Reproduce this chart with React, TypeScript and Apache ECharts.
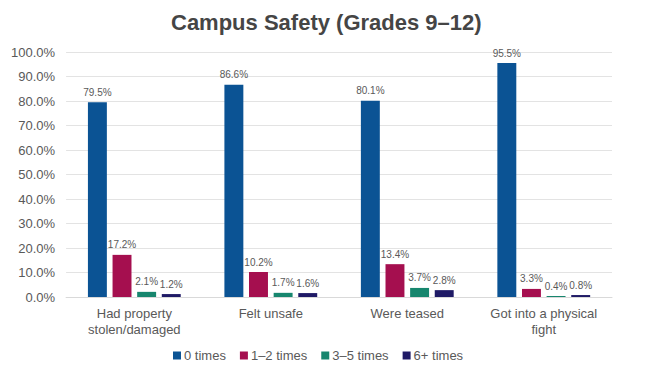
import React, { useEffect, useRef } from "react";
import * as echarts from "echarts";

const categories = ["Had property\nstolen/damaged", "Felt unsafe", "Were teased", "Got into a physical\nfight"];
const seriesNames = ["0 times", "1–2 times", "3–5 times", "6+ times"];
const zeroTimes = [79.5, 86.6, 80.1, 95.5];
const oneTwoTimes = [17.2, 10.2, 13.4, 3.3];
const threeFiveTimes = [2.1, 1.7, 3.7, 0.4];
const sixPlusTimes = [1.2, 1.6, 2.8, 0.8];
const colors = ["#0B5394", "#A50F4F", "#17866E", "#1F1A66"];

export default function App() {
  const ref = useRef<HTMLDivElement>(null);
  useEffect(() => {
    const chart = echarts.init(ref.current!, null, { renderer: "svg" });
    const data = [zeroTimes, oneTwoTimes, threeFiveTimes, sixPlusTimes];
    chart.setOption({
      animation: false,
      textStyle: { fontFamily: "Liberation Sans, Arial, sans-serif" },
      title: {
        text: "Campus Safety (Grades 9–12)",
        left: 158,
        top: -2,
        textStyle: { fontSize: 22, fontWeight: "bold", color: "#454545", fontFamily: "Liberation Sans, Arial, sans-serif" },
      },
      legend: {
        bottom: 16,
        left: 160,
        itemWidth: 8,
        itemHeight: 8,
        itemGap: 14,
        icon: "rect",
        textStyle: { color: "#595959", fontSize: 13, padding: [0, 0, 0, -2] },
        data: seriesNames,
      },
      grid: { left: 55, right: 30, top: 44, bottom: 86 },
      xAxis: {
        type: "category",
        data: categories,
        axisLine: { lineStyle: { color: "#d9d9d9" } },
        axisTick: { show: false },
        axisLabel: { color: "#595959", fontSize: 13, lineHeight: 16, margin: 8, interval: 0 },
      },
      yAxis: {
        type: "value",
        min: 0,
        max: 100,
        interval: 10,
        axisLabel: { color: "#595959", fontSize: 13, margin: 11, formatter: (v: number) => v.toFixed(1) + "%" },
        splitLine: { lineStyle: { color: "#e3e3e3" } },
        axisLine: { show: false },
        axisTick: { show: false },
      },
      series: data.map((d, i) => ({
        name: seriesNames[i],
        type: "bar",
        data: d,
        itemStyle: { color: colors[i] },
        barGap: "30%",
        barCategoryGap: "32%",
        label: {
          show: true,
          position: "top",
          color: "#595959",
          fontSize: 10,
          formatter: (p: any) => p.value.toFixed(1) + "%",
        },
      })),
    });
    return () => chart.dispose();
  }, []);
  return <div ref={ref} style={{ width: 634, height: 375 }} />;
}
